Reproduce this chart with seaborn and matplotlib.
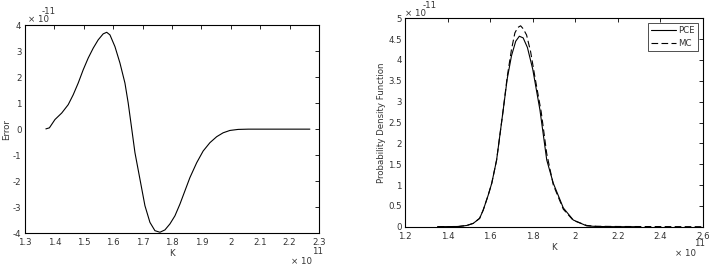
import matplotlib
matplotlib.use("Agg")
import matplotlib.pyplot as plt
import seaborn as sns
import pandas as pd

# Left panel: Error vs K  (K in units of 1e11, Error in units of 1e-11)
err_k = [1.371, 1.383, 1.402, 1.425, 1.447, 1.464, 1.481, 1.498, 1.515, 1.532, 1.549,
         1.566, 1.578, 1.589, 1.606, 1.623, 1.640, 1.651, 1.662, 1.674, 1.691, 1.708,
         1.725, 1.742, 1.759, 1.776, 1.793, 1.810, 1.827, 1.844, 1.861, 1.884, 1.906,
         1.929, 1.952, 1.974, 1.997, 2.025, 2.060, 2.120, 2.200, 2.269]
err_v = [0.01, 0.05, 0.37, 0.62, 0.94, 1.32, 1.77, 2.28, 2.73, 3.11, 3.43,
         3.66, 3.72, 3.62, 3.17, 2.54, 1.77, 1.01, 0.10, -0.90, -1.92, -2.94,
         -3.58, -3.90, -3.96, -3.87, -3.64, -3.33, -2.88, -2.37, -1.86, -1.29, -0.84,
         -0.52, -0.29, -0.14, -0.05, -0.01, 0.0, 0.0, 0.0, 0.0]

# Right panel: PDF vs K  (K in units of 1e11, PDF in units of 1e-11)
pce_k = [1.352, 1.45, 1.49, 1.52, 1.55, 1.567, 1.59, 1.607, 1.63, 1.661, 1.68, 1.70,
         1.72, 1.737, 1.755, 1.775, 1.80, 1.834, 1.866, 1.897, 1.944, 1.991, 2.054,
         2.10, 2.20, 2.30]
pce_v = [0.0, 0.005, 0.03, 0.08, 0.20, 0.40, 0.75, 1.04, 1.60, 2.80, 3.55, 4.10,
         4.45, 4.57, 4.53, 4.30, 3.78, 2.80, 1.60, 1.04, 0.45, 0.16, 0.02,
         0.005, 0.0, 0.0]
mc_k = [1.352, 1.45, 1.49, 1.52, 1.55, 1.567, 1.59, 1.607, 1.63, 1.661, 1.68, 1.70,
        1.716, 1.73, 1.743, 1.755, 1.771, 1.79, 1.81, 1.84, 1.866, 1.897, 1.944,
        1.991, 2.054, 2.10, 2.20, 2.60]
mc_v = [0.0, 0.005, 0.03, 0.08, 0.20, 0.40, 0.75, 1.04, 1.60, 2.80, 3.60, 4.25,
        4.65, 4.78, 4.82, 4.75, 4.60, 4.20, 3.60, 2.75, 1.75, 1.00, 0.42,
        0.15, 0.03, 0.01, 0.005, 0.0]

left_xticks = [1.3, 1.4, 1.5, 1.6, 1.7, 1.8, 1.9, 2.0, 2.1, 2.2, 2.3]
left_xlabels = ["1.3", "1.4", "1.5", "1.6", "1.7", "1.8", "1.9", "2", "2.1", "2.2", "2.3"]
left_yticks = [-4, -3, -2, -1, 0, 1, 2, 3, 4]
right_xticks = [1.2, 1.4, 1.6, 1.8, 2.0, 2.2, 2.4, 2.6]
right_xlabels = ["1.2", "1.4", "1.6", "1.8", "2", "2.2", "2.4", "2.6"]
right_yticks = [0, 0.5, 1, 1.5, 2, 2.5, 3, 3.5, 4, 4.5, 5]
right_ylabels = ["0", "0.5", "1", "1.5", "2", "2.5", "3", "3.5", "4", "4.5", "5"]

sns.set_style("white")
plt.rcParams['font.family'] = ['DejaVu Sans']
FS = 6.2
TXT = "#333333"

fig = plt.figure(figsize=(7.16, 2.68), dpi=100)
ax1 = fig.add_axes([0.0349, 0.1295, 0.4106, 0.7772])
ax2 = fig.add_axes([0.566, 0.1541, 0.4154, 0.7776])

df_err = pd.DataFrame({"K": err_k, "Error": err_v})
sns.lineplot(data=df_err, x="K", y="Error", ax=ax1, color="black", lw=0.8,
             sort=False, estimator=None)

df_pce = pd.DataFrame({"K": pce_k, "pdf": pce_v})
df_mc = pd.DataFrame({"K": mc_k, "pdf": mc_v})
sns.lineplot(data=df_pce, x="K", y="pdf", ax=ax2, color="black", lw=0.8,
             sort=False, estimator=None, label="PCE")
sns.lineplot(data=df_mc, x="K", y="pdf", ax=ax2, color="black", lw=0.8,
             sort=False, estimator=None, label="MC", linestyle=(0, (6, 3)))

def style(ax, xt, xl, yt, yl, xlim, ylim):
    ax.set_xlim(*xlim)
    ax.set_ylim(*ylim)
    ax.set_xticks(xt)
    ax.set_xticklabels(xl)
    ax.set_yticks(yt)
    ax.set_yticklabels(yl)
    ax.tick_params(direction="in", length=3, width=0.6, top=True, right=True,
                   labelsize=FS, colors="black", labelcolor=TXT)
    ax.tick_params(axis="x", pad=3.5)
    ax.tick_params(axis="y", pad=2.5)
    for s in ax.spines.values():
        s.set_visible(True)
        s.set_color("black")
        s.set_linewidth(0.8)

style(ax1, left_xticks, left_xlabels, left_yticks, [str(v) for v in left_yticks],
      (1.3, 2.3), (-4, 4))
style(ax2, right_xticks, right_xlabels, right_yticks, right_ylabels, (1.2, 2.6), (0, 5))

ax1.set_xlabel("K", fontsize=FS, color=TXT, labelpad=1.5)
ax1.set_ylabel("Error", fontsize=FS, color=TXT, labelpad=1.5)
ax2.set_xlabel("K", fontsize=FS, color=TXT, labelpad=1.5)
ax2.set_ylabel("Probability Density Function", fontsize=FS, color=TXT, labelpad=1.5)

def ftext(px, py, s):
    fig.text(px / 716, 1 - py / 268, s, fontsize=FS, color=TXT, va="center", ha="left")

# exponent annotations
ftext(27.5, 20, "× 10")
ftext(42, 12, "-11")
ftext(405, 14, "× 10")
ftext(423, 6, "-11")
ftext(291, 261.5, "× 10")
ftext(312, 252, "11")
ftext(675, 253, "× 10")
ftext(694, 244, "11")

leg = ax2.legend(loc="upper right", fontsize=FS, frameon=True, fancybox=False,
                 borderpad=0.35, handlelength=2.9, handletextpad=0.3,
                 labelspacing=0.45, borderaxespad=0.55)
leg.get_frame().set_edgecolor("black")
leg.get_frame().set_linewidth(0.6)
for t in leg.get_texts():
    t.set_color(TXT)

fig.savefig("out.png", dpi=100)
